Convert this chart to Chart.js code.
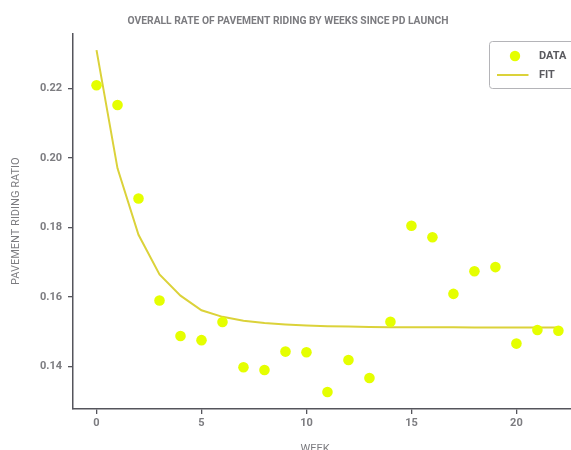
<!DOCTYPE html>
<html>
<head>
<meta charset="utf-8">
<style>
  html, body { margin: 0; padding: 0; overflow: hidden; background: #fff; }
  #wrap { width: 571px; height: 450px; overflow: hidden; }
  canvas { display: block; }
</style>
<script src="https://cdn.jsdelivr.net/npm/chart.js@4/dist/chart.umd.min.js"></script>
</head>
<body>
<div id="wrap"><canvas id="c" width="571" height="457"></canvas></div>
<script>
// Weeks since launch
const weeks = [0, 1, 2, 3, 4, 5, 6, 7, 8, 9, 10, 11, 12, 13, 14, 15, 16, 17, 18, 19, 20, 21, 22];

// Observed weekly pavement riding ratio
const observed = [0.2209, 0.2152, 0.1883, 0.1590, 0.1488, 0.1476, 0.1528, 0.1398, 0.1390, 0.1443,
                  0.1441, 0.1327, 0.1419, 0.1367, 0.1529, 0.1805, 0.1772, 0.1609, 0.1674, 0.1686,
                  0.1466, 0.1505, 0.1503];

// Fitted decay curve at each week
const fitted = [0.2310, 0.1970, 0.1779, 0.1665, 0.1604, 0.1562, 0.1543, 0.1532, 0.1525, 0.1521,
                0.1518, 0.1516, 0.1515, 0.1514, 0.1513, 0.1513, 0.1513, 0.1513, 0.1512, 0.1512,
                0.1512, 0.1512, 0.1512];

const xTicks = [0, 5, 10, 15, 20];
const yTicks = [0.14, 0.16, 0.18, 0.20, 0.22];

const seriesNames = ['DATA', 'FIT'];
const titleText = 'OVERALL RATE OF PAVEMENT RIDING BY WEEKS SINCE PD LAUNCH';
const xTitle = 'WEEK';
const yTitle = 'PAVEMENT RIDING RATIO';

const POINT_COLOR = '#e5ff00';
const LINE_COLOR = '#dbd23a';
const AXIS_COLOR = '#55555c';
const TEXT_COLOR = '#7c7c80';
const FONT = 'Roboto';

// Boxed legend drawn inside the plot, upper right
const innerLegend = {
  id: 'innerLegend',
  afterDraw(chart) {
    const ctx = chart.ctx;
    const x0 = 489.5, y0 = 41.5, w = 100, h = 47;
    ctx.save();
    ctx.fillStyle = 'rgba(255,255,255,0.9)';
    ctx.strokeStyle = '#b4b4b8';
    ctx.lineWidth = 1;
    ctx.beginPath();
    ctx.roundRect(x0, y0, w, h, 3);
    ctx.fill();
    ctx.stroke();

    const ds = chart.data.datasets;
    // scatter marker
    ctx.fillStyle = ds[0].pointBackgroundColor;
    ctx.beginPath();
    ctx.arc(515, 56, 5.2, 0, Math.PI * 2);
    ctx.fill();
    // line marker
    ctx.strokeStyle = ds[1].borderColor;
    ctx.lineWidth = 2;
    ctx.beginPath();
    ctx.moveTo(497, 75);
    ctx.lineTo(528.5, 75);
    ctx.stroke();

    ctx.fillStyle = '#5a5a5f';
    ctx.font = 'bold 11px ' + FONT;
    ctx.textBaseline = 'middle';
    ctx.textAlign = 'left';
    ctx.fillText(ds[0].label, 539, 56);
    ctx.fillText(ds[1].label, 539, 75);
    ctx.restore();
  }
};

// x-axis title, placed below the tick labels
const xAxisTitle = {
  id: 'xAxisTitle',
  afterDraw(chart) {
    const ctx = chart.ctx;
    ctx.save();
    ctx.fillStyle = TEXT_COLOR;
    ctx.font = '11px ' + FONT;
    ctx.textAlign = 'center';
    ctx.textBaseline = 'middle';
    ctx.fillText(xTitle, 315, 449.5);
    ctx.restore();
  }
};

const data = {
  datasets: [
    {
      type: 'scatter',
      label: seriesNames[0],
      data: weeks.map((w, i) => ({ x: w, y: observed[i] })),
      pointRadius: 5.3,
      pointBackgroundColor: POINT_COLOR,
      pointBorderWidth: 0,
      pointHoverRadius: 5.3
    },
    {
      type: 'line',
      label: seriesNames[1],
      data: weeks.map((w, i) => ({ x: w, y: fitted[i] })),
      borderColor: LINE_COLOR,
      borderWidth: 2,
      pointRadius: 0,
      tension: 0,
      fill: false
    }
  ]
};

new Chart(document.getElementById('c'), {
  type: 'scatter',
  data,
  plugins: [innerLegend, xAxisTitle],
  options: {
    responsive: false,
    devicePixelRatio: 1,
    animation: false,
    events: [],
    layout: { autoPadding: false, padding: { left: 5, right: 0, top: 0, bottom: 0 } },
    plugins: {
      legend: { display: false },
      tooltip: { enabled: false },
      title: {
        display: true,
        text: titleText,
        color: TEXT_COLOR,
        font: { family: FONT, size: 10.3, weight: 'bold' },
        padding: { top: 15.3, bottom: 5.7 }
      }
    },
    scales: {
      x: {
        type: 'linear',
        min: -1.12,
        max: 22.6,
        afterBuildTicks: (s) => { s.ticks = xTicks.map(v => ({ value: v })); },
        afterFit: (s) => { s.height = 48; s.paddingLeft = 0; s.paddingRight = 0; },
        ticks: {
          color: TEXT_COLOR,
          font: { family: FONT, size: 11, weight: 'bold' },
          padding: 3,
          maxRotation: 0
        },
        grid: {
          drawOnChartArea: false,
          drawTicks: true,
          tickLength: 5,
          tickColor: AXIS_COLOR,
          lineWidth: 1.3
        },
        border: { display: true, color: AXIS_COLOR, width: 1.5 },
        title: { display: false }
      },
      y: {
        type: 'linear',
        min: 0.1278,
        max: 0.2358,
        afterBuildTicks: (s) => { s.ticks = yTicks.map(v => ({ value: v })); },
        afterFit: (s) => { s.width = 68; },
        ticks: {
          color: TEXT_COLOR,
          font: { family: FONT, size: 11, weight: 'bold' },
          padding: 6,
          callback: (v) => v.toFixed(2)
        },
        grid: {
          drawOnChartArea: false,
          drawTicks: true,
          tickLength: 5,
          tickColor: AXIS_COLOR,
          lineWidth: 1.3
        },
        border: { display: true, color: AXIS_COLOR, width: 1.5 },
        title: {
          display: true,
          text: yTitle,
          color: TEXT_COLOR,
          font: { family: FONT, size: 11 },
          padding: { top: 4.5, bottom: 4 }
        }
      }
    }
  }
});
</script>
</body>
</html>
